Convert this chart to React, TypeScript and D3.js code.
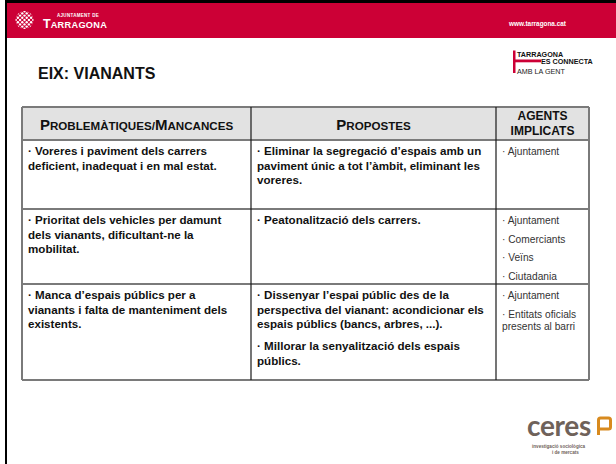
import React, { useEffect, useRef } from "react";
import * as d3 from "d3";

// table content
const headers = ["Problemàtiques/Mancances", "Propostes", "Agents implicats"];

const problems: string[][][] = [
  [["· Voreres i paviment dels carrers", "deficient, inadequat i en mal estat."]],
  [["· Prioritat dels vehicles per damunt", "dels vianants, dificultant-ne la", "mobilitat."]],
  [["· Manca d’espais públics per a", "vianants i falta de manteniment dels", "existents."]],
];

const proposals: string[][][] = [
  [["· Eliminar la segregació d’espais amb un", "paviment únic a tot l’àmbit, eliminant les", "voreres."]],
  [["· Peatonalització dels carrers."]],
  [
    ["· Dissenyar l’espai públic des de la", "perspectiva del vianant: acondicionar els", "espais públics (bancs, arbres, ...)."],
    ["· Millorar la senyalització dels espais", "públics."],
  ],
];

const agents: string[][][] = [
  [["· Ajuntament"]],
  [["· Ajuntament"], ["· Comerciants"], ["· Veïns"], ["· Ciutadania"]],
  [["· Ajuntament"], ["· Entitats oficials", "presents al barri"]],
];

const title = "EIX: VIANANTS";

const W = 616;
const H = 464;
const RED = "#cc0036";
const FONT = "'Liberation Sans', Arial, sans-serif";

export default function App() {
  const svgRef = useRef<SVGSVGElement>(null);

  useEffect(() => {
    const svg = d3.select(svgRef.current);
    svg.selectAll("*").remove();

    // slide frame
    svg.append("rect").attr("width", W).attr("height", H).attr("fill", "#fff");
    svg.append("rect").attr("x", 7).attr("y", 3).attr("width", W - 7).attr("height", 35).attr("fill", RED);
    svg.append("rect").attr("x", 5).attr("y", 0).attr("width", W - 5).attr("height", 3).attr("fill", "#000");
    svg.append("rect").attr("x", 5).attr("y", 0).attr("width", 2).attr("height", H).attr("fill", "#000");

    // Ajuntament logo (dotted ball)
    const ball = svg.append("g");
    svg.append("clipPath").attr("id", "ballclip")
      .append("circle").attr("cx", 24.5).attr("cy", 20).attr("r", 9);
    const pts: [number, number][] = [];
    d3.range(-4, 5).forEach((i) => d3.range(-4, 5).forEach((j) => {
      if ((i + j) % 2 === 0) pts.push([24.5 + i * 2.2, 20 + j * 2.2]);
    }));
    ball.attr("clip-path", "url(#ballclip)")
      .selectAll("circle").data(pts).join("circle")
      .attr("cx", (d) => d[0]).attr("cy", (d) => d[1]).attr("r", 1.2).attr("fill", "#fff");

    svg.append("text").attr("x", 57).attr("y", 16.5).attr("fill", "#fff")
      .style("font", `bold 4.5px ${FONT}`).attr("letter-spacing", 0.3).text("AJUNTAMENT DE");
    const tg = svg.append("text").attr("x", 43).attr("y", 28).attr("fill", "#fff")
      .style("font-family", FONT).style("font-weight", "bold");
    tg.append("tspan").style("font-size", "12.5px").text("T");
    tg.append("tspan").style("font-size", "9.2px").attr("letter-spacing", 0.3).text("ARRAGONA");

    svg.append("text").attr("x", 509).attr("y", 25.5).attr("fill", "#fff")
      .style("font", `bold 6.4px ${FONT}`).text("www.tarragona.cat");

    // "Tarragona es connecta" logo
    svg.append("rect").attr("x", 513).attr("y", 50.5).attr("width", 2.5).attr("height", 22.5).attr("fill", RED);
    svg.append("rect").attr("x", 513).attr("y", 59.5).attr("width", 28).attr("height", 2.8).attr("fill", RED);
    svg.append("text").attr("x", 517).attr("y", 56.5).style("font", `bold 7.2px ${FONT}`).attr("fill", "#111").text("TARRAGONA");
    svg.append("text").attr("x", 541).attr("y", 64).style("font", `bold 7.2px ${FONT}`).attr("fill", "#111").text("ES CONNECTA");
    svg.append("text").attr("x", 517).attr("y", 74).style("font", `7.2px ${FONT}`).attr("fill", "#222").text("AMB LA GENT");

    // title
    svg.append("text").attr("x", 38).attr("y", 79).style("font", `bold 16px ${FONT}`)
      .attr("fill", "#111").text(title);

    // table layout
    const colEdges = [22, 251, 496, 589];
    const rowEdges = [107, 140, 209, 284, 380];
    const colX = d3.scaleOrdinal<string, number>().domain(headers).range(colEdges.slice(0, 3));
    const colW = (i: number) => colEdges[i + 1] - colEdges[i];
    const rowY = d3.scaleOrdinal<number, number>().domain(d3.range(problems.length)).range(rowEdges.slice(1, 4));

    const table = svg.append("g");
    table.append("rect").attr("x", colEdges[0]).attr("y", rowEdges[0])
      .attr("width", colEdges[3] - colEdges[0]).attr("height", rowEdges[1] - rowEdges[0]).attr("fill", "#e2e2e2");

    // header labels
    headers.forEach((h, i) => {
      const cx = colX(h) + colW(i) / 2;
      if (i === 2) {
        h.toUpperCase().split(" ").forEach((w, k) => {
          table.append("text").attr("x", cx).attr("y", 120 + k * 14.5).attr("text-anchor", "middle")
            .style("font", `bold 12px ${FONT}`).attr("fill", "#111").text(w);
        });
      } else {
        const t = table.append("text").attr("x", cx).attr("y", 129.5).attr("text-anchor", "middle")
          .style("font-family", FONT).style("font-weight", "bold").attr("fill", "#111");
        const runs: { s: string; big: boolean }[] = [];
        for (const ch of h) {
          const big = ch !== ch.toLowerCase();
          const last = runs[runs.length - 1];
          if (last && last.big === big) last.s += ch;
          else runs.push({ s: ch, big });
        }
        runs.forEach((r) => t.append("tspan").style("font-size", r.big ? "15px" : "11.6px").text(r.s.toUpperCase()));
      }
    });

    // cell text
    const cells = [
      { data: problems, col: 0, size: 11.6, weight: "bold", color: "#111", lh: 14.7, gap: 7.3 },
      { data: proposals, col: 1, size: 11.6, weight: "bold", color: "#111", lh: 14.7, gap: 7.3 },
      { data: agents, col: 2, size: 10.2, weight: "normal", color: "#333", lh: 12.5, gap: 6.2 },
    ];
    cells.forEach((c) => {
      c.data.forEach((paras, r) => {
        let y = rowY(r) + 15;
        paras.forEach((lines) => {
          lines.forEach((ln) => {
            table.append("text").attr("x", colX(headers[c.col]) + 6).attr("y", y)
              .style("font", `${c.weight} ${c.size}px ${FONT}`).attr("fill", c.color).text(ln);
            y += c.lh;
          });
          y += c.gap;
        });
      });
    });

    // grid lines
    rowEdges.forEach((y) => {
      table.append("line").attr("x1", colEdges[0]).attr("x2", colEdges[3]).attr("y1", y).attr("y2", y)
        .attr("stroke", "#7a7a7a").attr("stroke-width", 2);
    });
    colEdges.forEach((x, i) => {
      const inner = i > 0 && i < colEdges.length - 1;
      table.append("line").attr("x1", x).attr("x2", x).attr("y1", rowEdges[0]).attr("y2", rowEdges[4])
        .attr("stroke", inner ? "#1a1a1a" : "#7a7a7a").attr("stroke-width", inner ? 1.2 : 2);
    });

    // ceres logo
    const brown = "#6f625a";
    svg.append("text").attr("x", 527).attr("y", 436).style("font", `bold 28px Lato, ${FONT}`)
      .attr("letter-spacing", -0.3).attr("fill", brown).text("ceres");
    svg.append("path")
      .attr("d", "M598.5,435 L598.5,420 Q598.5,418 600.5,418 L608.5,418 Q610.5,418 610.5,420 L610.5,427 Q610.5,429 608.5,429 L600,429")
      .attr("fill", "none").attr("stroke", "#d88a1e").attr("stroke-width", 3);
    svg.append("text").attr("x", 532).attr("y", 447.5).style("font", `bold 4.6px ${FONT}`)
      .attr("fill", brown).text("investigació sociològica");
    svg.append("text").attr("x", 552).attr("y", 453.5).style("font", `bold 4.6px ${FONT}`)
      .attr("fill", brown).text("i de mercats");
  }, []);

  return (
    <svg ref={svgRef} width={W} height={H} style={{ position: "absolute", left: 0, top: 0 }} />
  );
}
